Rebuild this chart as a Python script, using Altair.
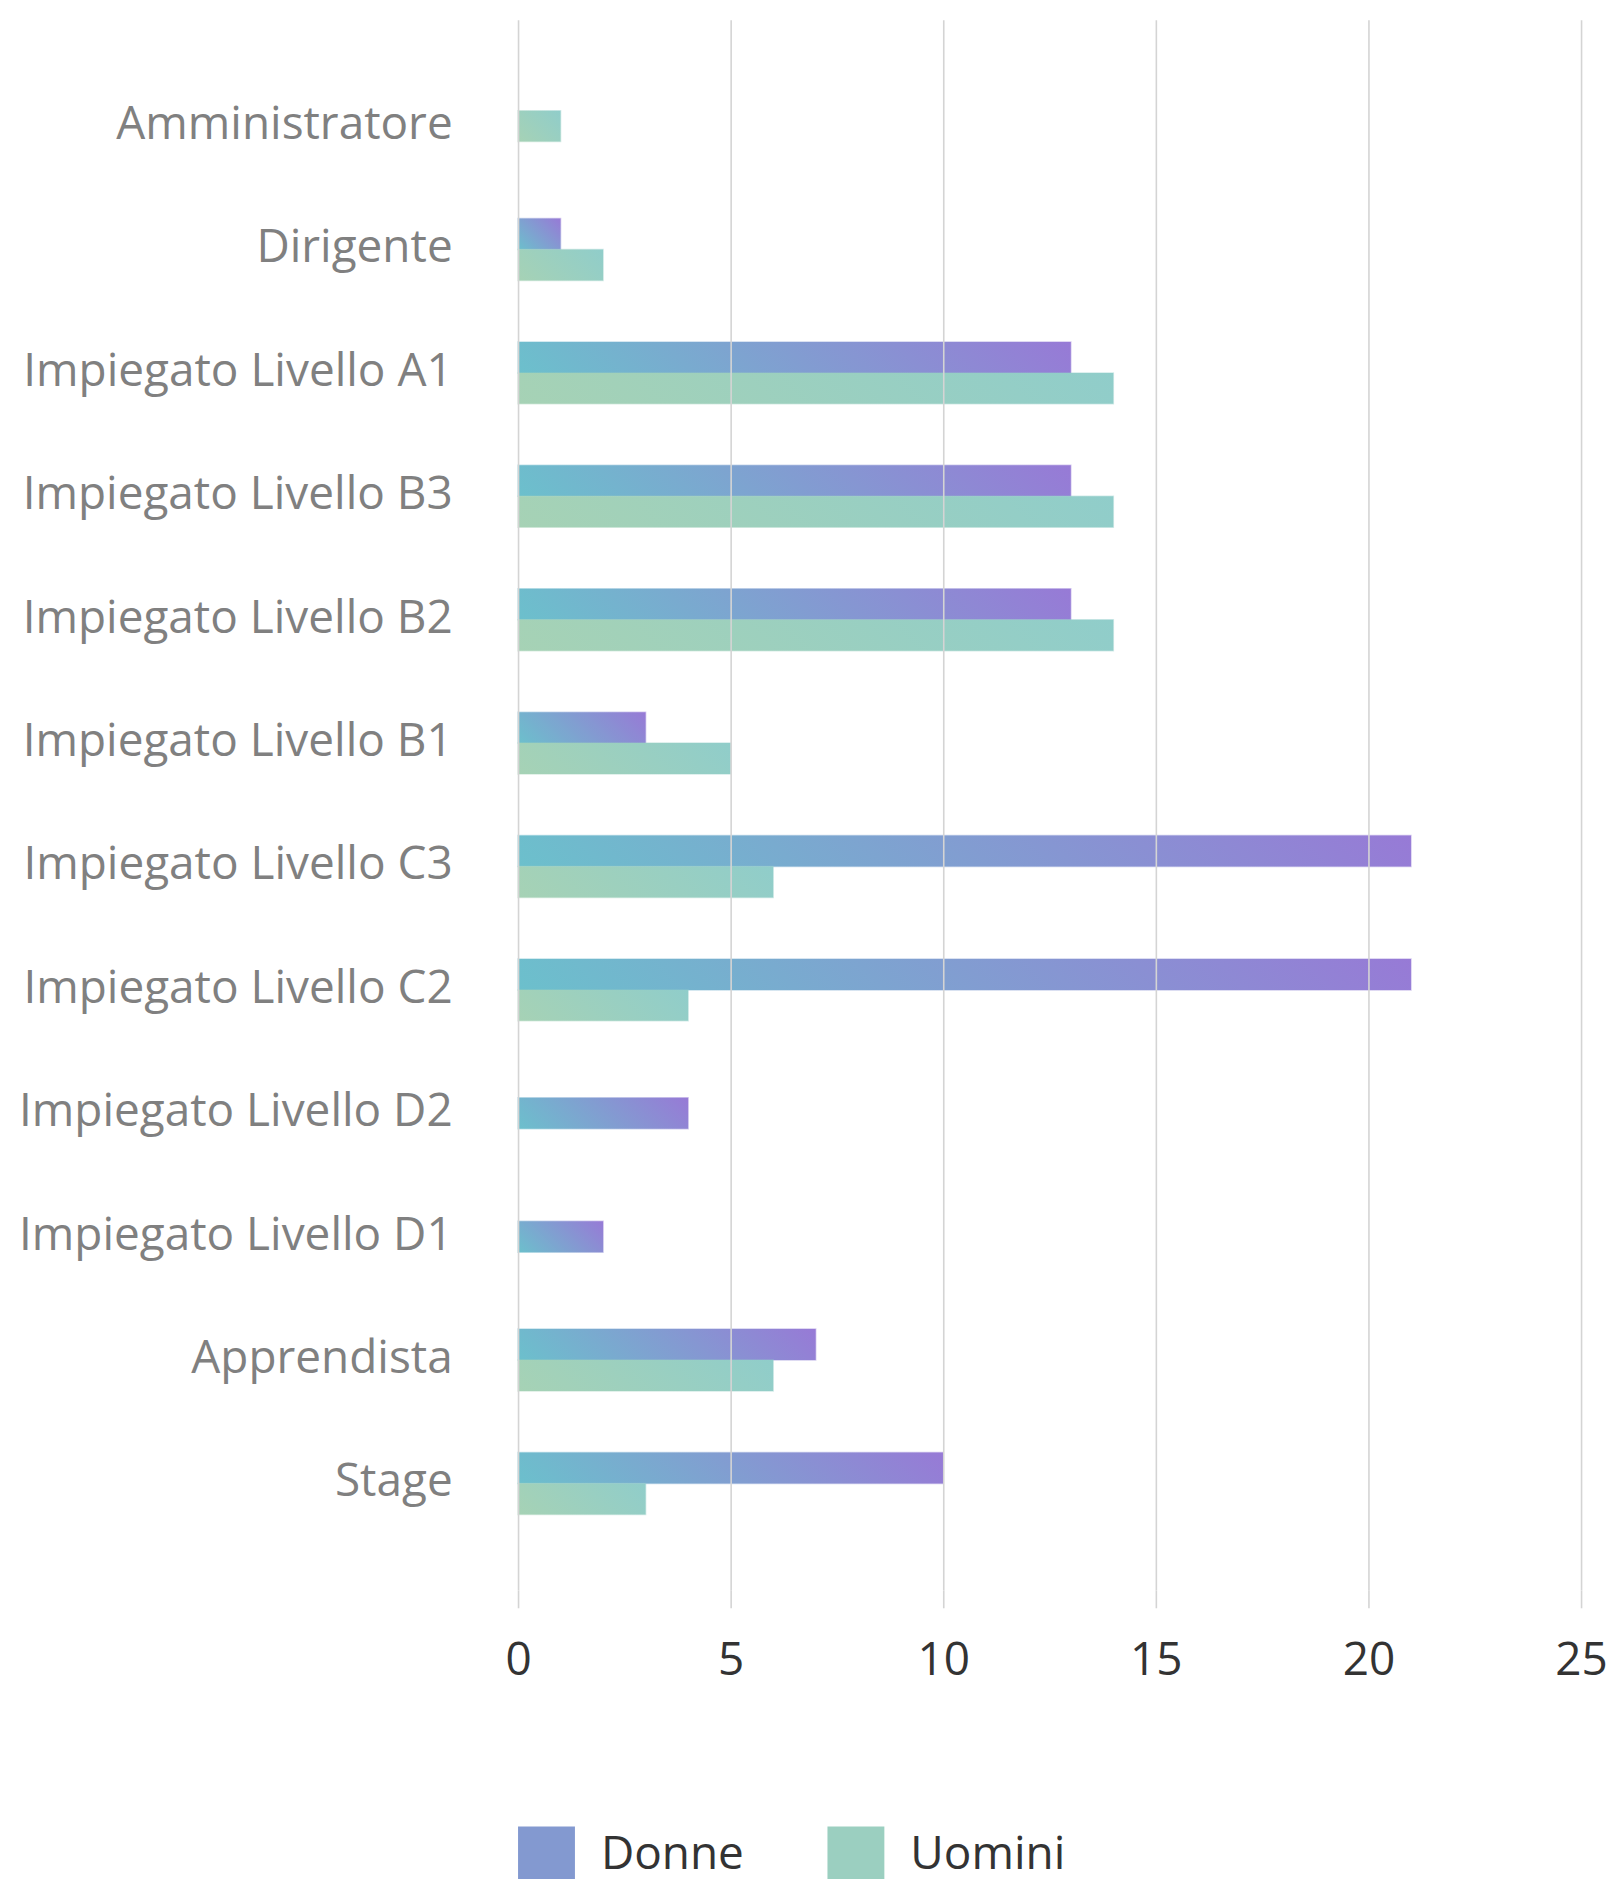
import altair as alt
import pandas as pd

categories = [
    "Amministratore", "Dirigente", "Impiegato Livello A1", "Impiegato Livello B3",
    "Impiegato Livello B2", "Impiegato Livello B1", "Impiegato Livello C3",
    "Impiegato Livello C2", "Impiegato Livello D2", "Impiegato Livello D1",
    "Apprendista", "Stage",
]
donne = [None, 1, 13, 13, 13, 3, 21, 21, 4, 2, 7, 10]
uomini = [1, 2, 14, 14, 14, 5, 6, 4, None, None, 6, 3]
series = ["Donne", "Uomini"]
x_ticks = [0, 5, 10, 15, 20, 25]
slots = ["_a", "_b", "Donne", "Solo", "Uomini", "_c", "_d"]

rows = []
for c, d, u in zip(categories, donne, uomini):
    both = d is not None and u is not None
    if d is not None:
        rows.append({"cat": c, "serie": "Donne", "val": d, "slot": "Donne" if both else "Solo"})
    if u is not None:
        rows.append({"cat": c, "serie": "Uomini", "val": u, "slot": "Uomini" if both else "Solo"})
df = pd.DataFrame(rows)

FONT = "Open Sans"
GRID = "#d4d4d4"
BAR_H = 31


def grad_expr(c0, c1):
    w = "scale('x', datum.val)"
    k = f"(({w}) + {BAR_H}) / (pow({w}, 2) + {BAR_H * BAR_H})"
    return alt.ExprRef(expr=(
        "{gradient: 'linear', x1: 0, y1: 1, "
        f"x2: ({w}) * {k}, y2: 1 - {BAR_H} * {k}, "
        f"stops: [{{offset: 0, color: '{c0}'}}, {{offset: 1, color: '{c1}'}}]}}"
    ))


y_enc = alt.Y(
    "cat:N", sort=categories,
    scale=alt.Scale(paddingInner=0, paddingOuter=0.362),
    axis=alt.Axis(title=None, domain=False, ticks=False, labelPadding=66,
                  labelFontSize=46, labelColor="#808080", labelFont=FONT,
                  labelLimit=700, labelOffset=-1),
)
x_enc = alt.X(
    "val:Q",
    scale=alt.Scale(domain=[0, 25], nice=False),
    axis=alt.Axis(title=None, values=x_ticks, domain=False, grid=True,
                  gridColor=GRID, gridWidth=1.6, tickColor=GRID, tickWidth=1.6,
                  tickSize=18, labelFontSize=46, labelColor="#333333",
                  labelFont=FONT, labelPadding=31, labelFlush=False, zindex=1),
)
yoff = alt.YOffset(
    "slot:N",
    scale=alt.Scale(domain=slots, paddingInner=0, paddingOuter=0.489),
)

base = alt.Chart(df)

donne_layer = base.transform_filter(alt.datum.serie == "Donne").mark_bar(
    size=BAR_H, fill=grad_expr("#6cc0cc", "#977ad6"),
    stroke=grad_expr("#6cc0cc", "#977ad6"), strokeWidth=1.5, strokeOpacity=0.4,
).encode(x=x_enc, y=y_enc, yOffset=yoff)

uomini_layer = base.transform_filter(alt.datum.serie == "Uomini").mark_bar(
    size=BAR_H, fill=grad_expr("#a6d2b5", "#90cdca"),
    stroke=grad_expr("#a6d2b5", "#90cdca"), strokeWidth=1.5, strokeOpacity=0.4,
).encode(x=x_enc, y=y_enc, yOffset=yoff)

legend_layer = base.mark_bar(size=BAR_H, opacity=0).encode(
    x=x_enc, y=y_enc, yOffset=yoff,
    color=alt.Color(
        "serie:N",
        scale=alt.Scale(domain=series, range=["#8399d0", "#9bcfc0"]),
        legend=alt.Legend(
            title=None, orient="none", legendX=0, legendY=1810,
            direction="horizontal", symbolType="square", symbolSize=3249,
            symbolStrokeWidth=0, symbolOpacity=1, labelFontSize=46,
            labelColor="#333333", labelFont=FONT, labelOffset=26,
            columnPadding=83, padding=0,
        ),
    ),
)

chart = alt.layer(donne_layer, uomini_layer, legend_layer).properties(
    width=1065,
    height=1573,
    autosize=alt.AutoSizeParams(type="none"),
    padding={"left": 511, "top": 10, "right": 30, "bottom": 320},
).configure_view(stroke=None)

chart.save("out.html", embed_options={"renderer": "svg", "actions": False})
